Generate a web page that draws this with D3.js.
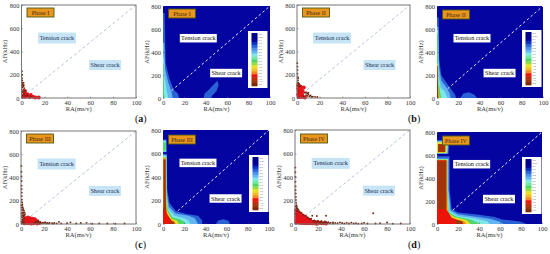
<!DOCTYPE html>
<html>
<head>
<meta charset="utf-8">
<script src="https://cdn.jsdelivr.net/npm/d3@7"></script>
<style>
  html, body { margin: 0; padding: 0; background: #fff; }
  text { font-family: "Liberation Serif", serif; }
</style>
</head>
<body>
<script>
const width = 550;
const height = 254;

const raTicks = [0, 20, 40, 60, 80, 100];
const afTicks = [0, 200, 400, 600, 800];
const phases = ["Phase I", "Phase II", "Phase III", "Phase IV"];
const panelTags = ["a", "b", "c", "d"];

// scatter values [RA, AF], dark points sit along the axes, red ones in the core
const darkA = [[0.3,230],[0.5,200],[0.4,170],[0.6,150],[0.8,130],[1,115],[1.5,100],[2,110],[0.7,90],[1.6,70],[2.4,85],[1.2,50],[2.2,40],[0.8,25],[3,20],[0.4,60],[0.5,110],[1.8,130],[3,60],[5,22],[8,12]];
const redA = [[3,60],[4,35],[5,30],[6,15],[8,25],[3.5,10],[7,8],[10,10],[12,5],[15,4],[1.5,10],[2.5,30]];

const darkB = [[0.3,300],[0.4,270],[0.5,240],[0.4,210],[0.7,180],[0.8,150],[1.2,130],[0.6,110],[1.5,105],[2.6,100],[0.8,60],[7,45],[9,40],[10,30],[8,25],[12,22],[11,15],[14,12],[16,10],[18,8],[6,15],[1,170],[0.4,130],[2,120],[8,50],[10,45],[13,8],[9,18]];
const redB = [[1,80],[2,85],[3,75],[1.5,55],[2.5,50],[3.5,50],[1,30],[2,25],[3,30],[4,15],[1.5,8],[3,8],[5,10],[5,60],[6,90],[7,5],[1,105],[3,100],[4.5,35]];

const darkC = [[0.3,500],[0.4,450],[0.4,410],[0.5,370],[0.5,330],[0.6,300],[0.7,270],[0.7,240],[0.8,210],[1,185],[1.2,165],[1.5,145],[2,130],[2.5,115],[1,120],[3,100],[2,95],[3.5,85],[1,75],[2.5,65],[1,40],[2,20],[0.6,90],[13,18],[15,22],[17,15],[19,12],[21,15],[23,9],[25,10],[27,6],[29,8],[14,8],[18,5],[22,4],[31,5],[33,18],[35,5],[40,6],[43,14],[48,4],[52,8],[57,10],[62,3],[68,5],[75,4],[82,3],[90,4],
  [0.4,160],[0.6,140],[1.2,100],[2,75],[3,75],[1.5,55],[2.5,45],[0.8,60],[1.4,30],[2.5,10],[0.6,20],[1,8],[16,8],[20,8],[24,5],[12,12],[28,3],[15,30]];
const redC = [[4,50],[6,55],[8,50],[10,45],[12,40],[5,35],[7,38],[9,32],[11,28],[13,30],[4,20],[6,22],[8,18],[10,15],[12,14],[5,8],[7,6],[9,5],[11,6],[3,6],[14,4],[16,8],[3.5,35]];

const darkD = [[0.3,480],[0.3,440],[0.4,400],[0.4,360],[0.5,320],[0.5,290],[0.6,260],[0.7,230],[0.8,205],[1,180],[1.3,160],[1.6,145],[2.2,130],[3,120],[1,135],[4,105],[5.5,95],[7,80],[9,70],[15,70],[19,68],[27,70],[14,45],[17,30],[20,28],[23,25],[26,22],[29,15],[31,10],[33,14],[35,8],[37,6],[39,14],[41,8],[43,5],[45,10],[47,4],[49,12],[51,5],[53,7],[55,3],[58,5],[60,10],[63,4],[68,92],[70,4],[74,6],[80,14],[85,3],[92,5],
  [0.4,150],[0.5,120],[0.4,85],[2,110],[11,55],[13,42],[16,25],[19,20],[22,18],[25,14],[28,10],[18,8],[24,6],[30,5],[33,4],[22,10],[27,17]];
const redD = [[1,110],[3,100],[5,85],[7,70],[9,60],[1,85],[3,80],[5,65],[7,50],[9,42],[11,45],[13,35],[1,60],[3,55],[5,45],[7,30],[9,22],[11,25],[13,18],[15,20],[17,18],[1,35],[3,32],[5,25],[1,12],[3,12],[5,8],[7,8],[9,6],[11,7],[13,6],[15,7],[17,6],[19,12],[21,10],[23,7],[25,6],[19,3],[27,5]];

// density contours, each entry is [level, outline in RA/AF]
const densityA = [
  [1, [[0,0],[0,740],[1.5,740],[2.5,300],[6,170],[10,70],[14,40],[15,0]]],
  [1, [[38,0],[39,40],[43,75],[48,125],[51,150],[52,110],[50,60],[46,20],[45,0]]],
  [2, [[0,0],[0,480],[1.2,480],[2,250],[5,130],[8,50],[9,0]]],
  [3, [[0,0],[0,350],[0.9,350],[1.5,180],[3.5,60],[5,0]]],
  [4, [[0,0],[0,300],[0.6,300],[0.9,60],[1.2,0]]]
];
const densityB = [
  [1, [[0,0],[0,700],[1.5,700],[2,350],[4,200],[9,130],[13,80],[17,30],[18,0]]],
  [1, [[22,0],[25,40],[30,50],[35,30],[38,0]]],
  [2, [[0,0],[0,620],[1.2,620],[1.8,280],[4,150],[9,90],[12,40],[13,0]]],
  [3, [[0,0],[0,600],[1,600],[1.5,200],[3.5,90],[7,60],[9,20],[10,0]]],
  [4, [[0,0],[0,560],[0.9,560],[1.2,150],[3,50],[4,0]]],
  [5, [[0,0],[0,300],[0.9,300],[1.1,110],[2,35],[2.5,0]]],
  [8, [[0,0],[0,280],[0.7,280],[0.9,120],[1.3,30],[1.5,0]]]
];
const densityC = [
  [1, [[0,0],[0,595],[3.6,595],[4,300],[6,180],[12,110],[22,85],[33,70],[37,30],[37,0]]],
  [1, [[0,610],[0,720],[3.2,720],[3.4,610]]],
  [1, [[50,0],[52,30],[57,40],[62,25],[63,0]]],
  [2, [[0,0],[0,590],[3.4,590],[3.5,280],[5.5,150],[12,90],[24,70],[30,50],[33,0]]],
  [3, [[0,0],[0,580],[3.2,580],[3.4,250],[5,130],[11,70],[20,50],[24,30],[26,0]]],
  [3, [[0,615],[0,710],[3,710],[3.1,615]]],
  [4, [[0,0],[0,570],[3,570],[3.2,230],[4.5,120],[9,55],[16,40],[20,20],[21,0]]],
  [4, [[0,625],[0,695],[2.7,695],[2.8,625]]],
  [5, [[0,0],[0,565],[2.9,565],[3.1,220],[4,110],[8,45],[13,30],[15,0]]],
  [6, [[0,0],[0,560],[2.7,560],[2.9,200],[3.6,100],[7,38],[11,22],[12,0]]],
  [7, [[0,0],[0,130],[2,150],[4,80],[8,30],[10,0]]],
  [8, [[0.4,110],[0.4,550],[2.5,550],[2.7,200],[3,110]]],
  [8, [[6,0],[7,25],[10,20],[11,0]]]
];
const densityD = [
  [1, [[0,0],[0,590],[12,590],[12,300],[14,130],[20,100],[40,80],[55,60],[62,40],[80,20],[85,0]]],
  [1, [[0,608],[0,730],[12,730],[11,608]]],
  [2, [[0,0],[0,570],[11,570],[11,300],[13,120],[20,85],[35,65],[50,45],[60,20],[63,0]]],
  [3, [[0,0],[0,565],[10.5,565],[10.5,300],[12,110],[20,70],[35,50],[48,25],[50,0]]],
  [3, [[0,612],[0,720],[10.5,720],[10,612]]],
  [4, [[0,0],[0,560],[10,560],[10,300],[11,105],[18,65],[32,40],[38,15],[40,0]]],
  [5, [[0,0],[0,558],[9.5,558],[9.5,300],[10.5,100],[16,60],[28,35],[32,0]]],
  [5, [[0,618],[0,710],[9.5,710],[9,618]]],
  [6, [[0,0],[0,555],[9.2,555],[9.2,300],[10,100],[15,50],[26,25],[28,0]]],
  [7, [[0,0],[0,555],[9,555],[9,125],[11,100],[14,55],[18,42],[18,0]]],
  [8, [[1,130],[1,548],[8.4,548],[8.4,130]]],
  [8, [[18,0],[18,40],[24,25],[25,0]]],
  [8, [[1,625],[1,695],[8,695],[8,625]]]
];

const levelColors = ["#0404a0", "#2a62d6", "#62b4f2", "#7ce8e6", "#4fd46c", "#e8e020", "#f08a1c", "#ec1408", "#a2340a"];
const levels = [0, 1, 2, 3, 4, 5, 6, 7, 8];

const legendColors = ["#02028c", "#02028c", "#04049c", "#0a2fc0", "#2a62d6", "#4a90ea", "#62b4f2", "#7ce8e6", "#70e8a8", "#4fd46c", "#8fdc40", "#e8e020", "#f0c020", "#f08a1c", "#ec1408", "#c0280c", "#a2340a", "#7e2a08"];
const legendLabels = ["0.0", "0.05", "0.1", "0.2", "0.3", "0.4", "0.5", "0.6", "0.7", "0.8", "0.9", "1.0", "1.5", "2.0", "2.5", "3.0", "3.5", "4.0"];

const scatterPanels = [
  { left: 21.5, right: 136, top: 5, bottom: 98, phase: 0, dark: darkA, red: redA, labelTop: 8 },
  { left: 297, right: 410, top: 5, bottom: 98, phase: 1, dark: darkB, red: redB, labelTop: 8 },
  { left: 21, right: 136, top: 131, bottom: 224, phase: 2, dark: darkC, red: redC, labelTop: 134 },
  { left: 295, right: 410, top: 130, bottom: 224, phase: 3, dark: darkD, red: redD, labelTop: 134 }
];
const densityPanels = [
  { left: 163, right: 270, top: 6, bottom: 98, phase: 0, bands: densityA, start: 8, legendX: 248, legendY: 31, labelTop: 9 },
  { left: 437, right: 543, top: 6, bottom: 98, phase: 1, bands: densityB, start: 10, legendX: 522, legendY: 30, labelTop: 10 },
  { left: 163, right: 269, top: 130, bottom: 224, phase: 2, bands: densityC, start: 14, legendX: 249, legendY: 155, labelTop: 135 },
  { left: 437, right: 542, top: 132, bottom: 224, phase: 3, bands: densityD, start: 15, legendX: 522, legendY: 157, labelTop: 136 }
];
const tagPositions = [[135, 122], [408, 122], [135, 248], [408, 248]];

const svg = d3.select("body").append("svg")
    .attr("width", width)
    .attr("height", height)
    .style("display", "block");

const levelColor = d3.scaleOrdinal().domain(levels).range(levelColors);

function drawAxes(g, p, x, y) {
    const ax = g.append("g")
        .attr("transform", `translate(0,${p.bottom})`)
        .call(d3.axisBottom(x).tickValues(raTicks).tickSize(-1.5).tickPadding(2.5));
    const ay = g.append("g")
        .attr("transform", `translate(${p.left},0)`)
        .call(d3.axisLeft(y).tickValues(afTicks).tickSize(-1.5).tickPadding(2));
    [ax, ay].forEach(a => {
        a.select(".domain").remove();
        a.selectAll("line").attr("stroke", "#555").attr("stroke-width", 0.5);
        a.selectAll("text").attr("font-size", 6.5).attr("fill", "#333")
            .style("font-family", '"Liberation Serif", serif');
    });
    g.append("text")
        .attr("x", (p.left + p.right) / 2)
        .attr("y", p.bottom + 13)
        .attr("text-anchor", "middle")
        .attr("font-size", 6.5)
        .attr("fill", "#333")
        .text("RA(ms/v)");
    g.append("text")
        .attr("transform", `translate(${p.left - 14.5},${(p.top + p.bottom) / 2}) rotate(-90)`)
        .attr("text-anchor", "middle")
        .attr("font-size", 6.5)
        .attr("fill", "#333")
        .text("AF(kHz)");
}

function labelBox(g, cx, cy, w, h, fill, color, text) {
    g.append("rect")
        .attr("x", cx - w / 2).attr("y", cy - h / 2)
        .attr("width", w).attr("height", h)
        .attr("fill", fill);
    g.append("text")
        .attr("x", cx).attr("y", cy + 2.1)
        .attr("text-anchor", "middle")
        .attr("font-size", 6.2)
        .attr("fill", color)
        .text(text);
}

function phaseBox(g, p) {
    const w = 27, h = 9;
    const lx = p.left + 5.5;
    g.append("rect")
        .attr("x", lx).attr("y", p.labelTop)
        .attr("width", w).attr("height", h)
        .attr("fill", "#e8961e")
        .attr("stroke", "#4e5a12")
        .attr("stroke-width", 0.9);
    g.append("text")
        .attr("x", lx + w / 2).attr("y", p.labelTop + h / 2 + 2.1)
        .attr("text-anchor", "middle")
        .attr("font-size", 6)
        .attr("fill", "#4a2a10")
        .text(phases[p.phase]);
}

// scatter panels
scatterPanels.forEach(p => {
    const g = svg.append("g");
    const x = d3.scaleLinear().domain([0, 100]).range([p.left, p.right]);
    const y = d3.scaleLinear().domain([0, 800]).range([p.bottom, p.top]);

    g.append("line")
        .attr("x1", x(5)).attr("y1", y(40))
        .attr("x2", x(100)).attr("y2", y(800))
        .attr("stroke", "#b4c2de")
        .attr("stroke-width", 1)
        .attr("stroke-dasharray", "3,2.5");

    g.append("g").selectAll("circle")
        .data(p.red)
        .enter()
        .append("circle")
        .attr("cx", d => x(d[0]))
        .attr("cy", d => y(d[1]))
        .attr("r", 2)
        .attr("fill", "#e2141c");

    g.append("g").selectAll("circle")
        .data(p.dark)
        .enter()
        .append("circle")
        .attr("cx", d => x(d[0]))
        .attr("cy", d => y(d[1]))
        .attr("r", 0.95)
        .attr("fill", "#74240e");

    g.append("rect")
        .attr("x", p.left).attr("y", p.top)
        .attr("width", p.right - p.left).attr("height", p.bottom - p.top)
        .attr("fill", "none")
        .attr("stroke", "#777")
        .attr("stroke-width", 1);

    drawAxes(g, p, x, y);
    labelBox(g, x(31), y(516), 38, 11, "#c6e4f6", "#1d2f50", "Tension crack");
    labelBox(g, x(73), y(284), 32, 10, "#c6e4f6", "#1d2f50", "Shear crack");
    phaseBox(g, p);
});

// density panels
densityPanels.forEach(p => {
    const g = svg.append("g");
    const x = d3.scaleLinear().domain([0, 100]).range([p.left, p.right]);
    const y = d3.scaleLinear().domain([0, 800]).range([p.bottom, p.top]);
    const outline = d3.line()
        .x(d => x(d[0]))
        .y(d => y(d[1]))
        .curve(d3.curveLinearClosed);

    g.append("rect")
        .attr("x", p.left).attr("y", p.top)
        .attr("width", p.right - p.left).attr("height", p.bottom - p.top)
        .attr("fill", levelColor(0));

    g.append("g").selectAll("path")
        .data(p.bands)
        .enter()
        .append("path")
        .attr("d", d => outline(d[1]))
        .attr("fill", d => levelColor(d[0]));

    g.append("line")
        .attr("x1", x(p.start)).attr("y1", y(p.start * 8))
        .attr("x2", x(100)).attr("y2", y(800))
        .attr("stroke", "#e8ecff")
        .attr("stroke-width", 1)
        .attr("stroke-dasharray", "2.5,2.5");

    drawAxes(g, p, x, y);
    labelBox(g, x(33), y(520), 37, 8.5, "#fff", "#111", "Tension crack");
    labelBox(g, x(59), y(217), 32, 8.5, "#fff", "#111", "Shear crack");
    phaseBox(g, p);

    // legend
    const legend = g.append("g").attr("transform", `translate(${p.legendX},${p.legendY})`);
    legend.append("rect")
        .attr("width", 19.5).attr("height", 57)
        .attr("fill", "#fff");
    const band = d3.scaleBand().domain(legendLabels).range([2, 55]);
    legend.selectAll("rect.key")
        .data(legendLabels)
        .enter()
        .append("rect")
        .attr("class", "key")
        .attr("x", 3.5)
        .attr("y", d => band(d))
        .attr("width", 6)
        .attr("height", band.bandwidth() + 0.3)
        .attr("fill", (d, i) => legendColors[i]);
    legend.selectAll("text")
        .data(legendLabels)
        .enter()
        .append("text")
        .attr("x", 10.5)
        .attr("y", d => band(d) + band.bandwidth() / 2 + 0.9)
        .attr("font-size", 2.6)
        .attr("fill", "#555")
        .text(d => d);
});

// panel letters
tagPositions.forEach((pos, i) => {
    const t = svg.append("text")
        .attr("x", pos[0]).attr("y", pos[1])
        .attr("font-size", 10)
        .attr("fill", "#111");
    t.append("tspan").text("(");
    t.append("tspan").attr("font-weight", "bold").text(panelTags[i]);
    t.append("tspan").text(")");
});
</script>
</body>
</html>
